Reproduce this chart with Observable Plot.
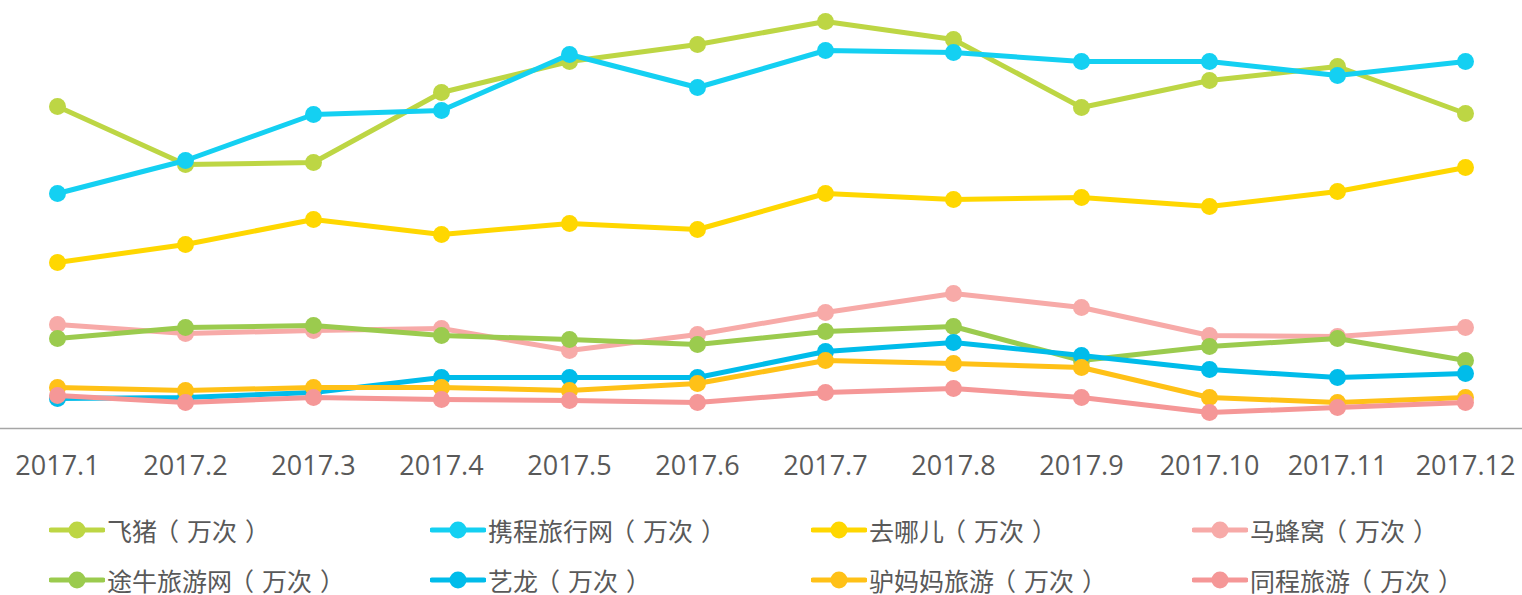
<!DOCTYPE html>
<html>
<head>
<meta charset="utf-8">
<script src="https://cdn.jsdelivr.net/npm/d3@7"></script>
<script src="https://cdn.jsdelivr.net/npm/@observablehq/plot@0.6"></script>
<style>
  html, body { margin: 0; padding: 0; background: #fff; }
  #chart svg { display: block; }
  #legend {
    position: relative;
    display: grid;
    grid-template-columns: repeat(4, 381px);
    row-gap: 22px;
    margin-left: 49px;
    margin-top: 26px;
    font-family: "Noto Sans CJK SC", "Noto Sans", sans-serif;
    font-size: 25px;
    color: #595959;
  }
  .item { display: flex; align-items: center; height: 28px; white-space: nowrap; }
  .item svg { display: block; margin-right: 2px; }
  .po { margin-left: -3px; margin-right: 8px; }
  .pc { margin-left: 8px; }
</style>
</head>
<body>
<div id="chart"></div>
<div id="legend"></div>
<script>
const months = ["2017.1","2017.2","2017.3","2017.4","2017.5","2017.6","2017.7","2017.8","2017.9","2017.10","2017.11","2017.12"];
const seriesNames = ["飞猪（万次）","携程旅行网（万次）","去哪儿（万次）","马蜂窝（万次）","途牛旅游网（万次）","艺龙（万次）","驴妈妈旅游（万次）","同程旅游（万次）"];
const seriesColors = ["#bdd644","#14d0f2","#ffd700","#f7aaa8","#9bcb4e","#00bcea","#ffc117","#f59797"];

// values (arbitrary units, no y axis shown)
const feizhu   = [322, 264, 266, 336, 367, 384, 407, 389, 321, 348, 362, 315];
const xiecheng = [235, 268, 314, 318, 374, 341, 378, 376, 367, 367, 353, 367];
const qunar    = [166, 184, 209, 194, 205, 199, 235, 229, 231, 222, 237, 261];
const mafengwo = [104,  95,  98, 100,  78,  94, 116, 135, 121,  93,  92, 101];
const tuniu    = [ 90, 101, 103,  93,  89,  84,  97, 102,  68,  82,  90,  68];
const yilong   = [ 30,  31,  36,  51,  51,  51,  77,  86,  73,  59,  51,  55];
const lvmama   = [ 41,  38,  41,  41,  38,  45,  68,  65,  61,  31,  26,  31];
const tongcheng= [ 33,  26,  31,  29,  28,  26,  36,  40,  31,  16,  21,  26];

const seriesValues = [feizhu, xiecheng, qunar, mafengwo, tuniu, yilong, lvmama, tongcheng];

const marks = [Plot.ruleY([0], {stroke: "#a6a6a6", strokeWidth: 1.5})];
seriesValues.forEach((vals, i) => {
  const rows = months.map((m, j) => ({month: m, value: vals[j]}));
  marks.push(Plot.line(rows, {x: "month", y: "value", stroke: seriesColors[i], strokeWidth: 5, strokeLinejoin: "round"}));
  marks.push(Plot.dot(rows, {x: "month", y: "value", fill: seriesColors[i], r: 8.5}));
});

const chart = Plot.plot({
  width: 1522,
  height: 490,
  marginTop: 0,
  marginLeft: 0,
  marginRight: 0,
  marginBottom: 62,
  style: {fontFamily: "'Open Sans', 'Noto Sans', sans-serif", fontSize: "27px", color: "#595959", background: "#fff"},
  x: {type: "point", domain: months, padding: 0.428, label: null, tickSize: 0, tickPadding: 27},
  y: {domain: [0, 428], axis: null},
  marks
});
document.getElementById("chart").appendChild(chart);

const legend = document.getElementById("legend");
seriesNames.forEach((name, i) => {
  const div = document.createElement("div");
  div.className = "item";
  const html = name.replace("（", '<span class="po">（</span>').replace("）", '<span class="pc">）</span>');
  div.innerHTML = `<svg width="56" height="20"><line x1="2" y1="10" x2="54" y2="10" stroke="${seriesColors[i]}" stroke-width="5" stroke-linecap="round"/><circle cx="28" cy="10" r="8.5" fill="${seriesColors[i]}"/></svg><span>${html}</span>`;
  legend.appendChild(div);
});
</script>
</body>
</html>
